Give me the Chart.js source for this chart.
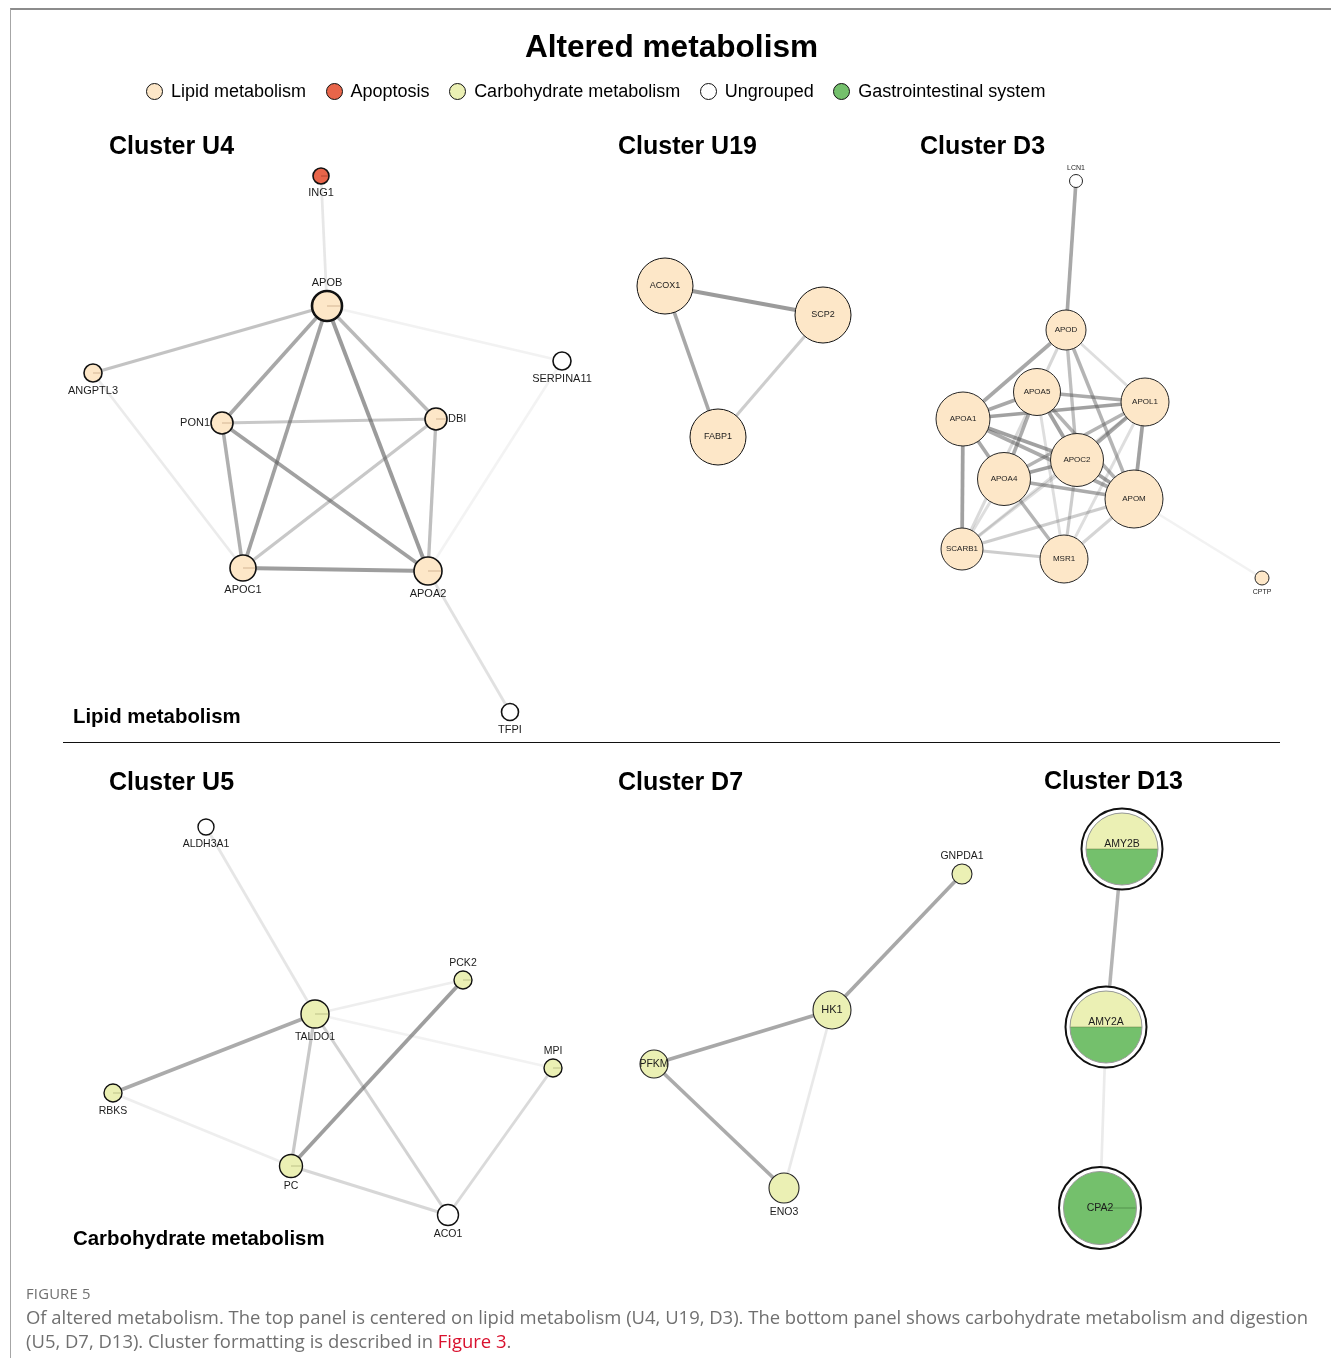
<!DOCTYPE html>
<html>
<head>
<meta charset="utf-8">
<title>Altered metabolism</title>
<script src="https://cdn.jsdelivr.net/npm/chart.js@4.4.0/dist/chart.umd.min.js"></script>
<style>
  html, body { margin: 0; padding: 0; background: #fff; }
  body { width: 1331px; height: 1358px; position: relative; overflow: hidden;
         font-family: "Liberation Sans", Arial, Helvetica, sans-serif; color: #000; }
  #frame { position: absolute; left: 10px; top: 8px; right: -2px; bottom: -2px;
           border-top: 2px solid #8c8c8c; border-left: 1px solid #a6a6a6; }
  #net { position: absolute; left: 0; top: 0; }
  .t { position: absolute; white-space: nowrap; line-height: 1; transform: translateY(-50%); }
  .title { font-size: 31.6px; font-weight: bold; left: 0; width: 1343px; text-align: center; }
  .cl { font-size: 25px; font-weight: bold; }
  .panel { font-size: 20.4px; font-weight: bold; }
  #legend { position: absolute; left: 146px; top: 91px; transform: translateY(-50%);
            display: flex; align-items: center; font-size: 18px; white-space: nowrap; line-height: 1; }
  #legend .item { display: flex; align-items: center; margin-right: 19.5px; }
  #legend .dot { width: 15px; height: 15px; border: 1.3px solid #111; border-radius: 50%;
                 margin-right: 8px; box-sizing: content-box; }
  #sep { position: absolute; left: 63px; top: 742px; width: 1217px; height: 0; border-top: 1.2px solid #111; }
  .cap { font-family: "Open Sans", "Noto Sans", sans-serif; color: #707070; }
  .figno { font-size: 14.8px; left: 26px; top: 1293px; letter-spacing: 0.2px; }
  .capline { font-size: 18.45px; left: 26px; }
  .capline a { color: #d9112e; text-decoration: none; }
</style>
</head>
<body>
<div id="frame"></div>
<canvas id="net" width="1331" height="1358"></canvas>

<div class="t title" style="top:47px;">Altered metabolism</div>
<div id="legend"></div>

<div class="t cl" style="left:109px; top:145px;">Cluster U4</div>
<div class="t cl" style="left:618px; top:145px;">Cluster U19</div>
<div class="t cl" style="left:920px; top:145px;">Cluster D3</div>
<div class="t cl" style="left:109px; top:781px;">Cluster U5</div>
<div class="t cl" style="left:618px; top:781px;">Cluster D7</div>
<div class="t cl" style="left:1044px; top:780px;">Cluster D13</div>

<div class="t panel" style="left:73px; top:716px;">Lipid metabolism</div>
<div class="t panel" style="left:73px; top:1238px;">Carbohydrate metabolism</div>
<div id="sep"></div>

<div class="t cap figno" style="top:1293px;">FIGURE 5</div>
<div class="t cap capline" style="top:1317px;">Of altered metabolism. The top panel is centered on lipid metabolism (U4, U19, D3). The bottom panel shows carbohydrate metabolism and digestion</div>
<div class="t cap capline" style="top:1341px;">(U5, D7, D13). Cluster formatting is described in <a>Figure 3</a>.</div>

<script>
// ---- Functional groups shown in the legend ----
const groupNames  = ['Lipid metabolism', 'Apoptosis', 'Carbohydrate metabolism', 'Ungrouped', 'Gastrointestinal system'];
const groupKeys   = ['lipid', 'apoptosis', 'carb', 'none', 'gi'];
const groupColors = ['#fde7c8', '#e8654a', '#ebf0b4', '#ffffff', '#74c06c'];

// ---- Network nodes: gene, layout position, group, node size ----
const nodeNames = [
  'ING1', 'APOB', 'ANGPTL3', 'SERPINA11', 'PON1', 'DBI', 'APOC1', 'APOA2', 'TFPI',          // U4
  'ACOX1', 'SCP2', 'FABP1',                                                                 // U19
  'LCN1', 'APOD', 'APOA5', 'APOL1', 'APOA1', 'APOC2', 'APOA4', 'APOM', 'SCARB1', 'MSR1', 'CPTP', // D3
  'ALDH3A1', 'PCK2', 'TALDO1', 'MPI', 'RBKS', 'PC', 'ACO1',                                 // U5
  'GNPDA1', 'HK1', 'PFKM', 'ENO3',                                                          // D7
  'AMY2B', 'AMY2A', 'CPA2'                                                                  // D13
];
const nodeX = [
  321, 327, 93, 562, 222, 436, 243, 428, 510,
  665, 823, 718,
  1076, 1066, 1037, 1145, 963, 1077, 1004, 1134, 962, 1064, 1262,
  206, 463, 315, 553, 113, 291, 448,
  962, 832, 654, 784,
  1122, 1106, 1100
];
const nodeY = [
  176, 306, 373, 361, 423, 419, 568, 571, 712,
  286, 315, 437,
  181, 330, 392, 402, 419, 460, 479, 499, 549, 559, 578,
  827, 980, 1014, 1068, 1093, 1166, 1215,
  874, 1010, 1064, 1188,
  849, 1027, 1208
];
const nodeGroup = [
  'apoptosis', 'lipid', 'lipid', 'none', 'lipid', 'lipid', 'lipid', 'lipid', 'none',
  'lipid', 'lipid', 'lipid',
  'none', 'lipid', 'lipid', 'lipid', 'lipid', 'lipid', 'lipid', 'lipid', 'lipid', 'lipid', 'lipid',
  'none', 'carb', 'carb', 'carb', 'carb', 'carb', 'none',
  'carb', 'carb', 'carb', 'carb',
  'carb+gi', 'carb+gi', 'gi'
];
const nodeSize = [
  8, 15, 9, 9, 11, 11, 13, 14, 8.5,
  28, 28, 28,
  6.5, 20, 23.5, 24, 27, 26.5, 26.5, 29, 21, 24, 7,
  8, 9, 14, 9, 9, 11.5, 10.5,
  10, 19, 14, 15,
  36, 36, 36.5
];

// ---- Interactions: source, target, confidence score ----
const edgeSource = [
  'ING1', 'APOB', 'APOB', 'APOB', 'APOB', 'APOB', 'APOB', 'PON1', 'PON1', 'PON1', 'DBI', 'DBI', 'APOC1', 'ANGPTL3', 'SERPINA11', 'APOA2',
  'ACOX1', 'ACOX1', 'SCP2',
  'LCN1', 'APOD', 'APOD', 'APOD', 'APOD', 'APOD', 'APOA5', 'APOA1', 'APOA1', 'APOA1', 'APOA1', 'APOA1', 'APOA1',
  'APOA5', 'APOA5', 'APOA5', 'APOA5', 'APOA5', 'APOL1', 'APOL1', 'APOL1', 'APOL1', 'APOL1',
  'APOC2', 'APOC2', 'APOC2', 'APOC2', 'APOA4', 'APOA4', 'APOA4', 'APOM', 'APOM', 'SCARB1', 'APOM',
  'ALDH3A1', 'TALDO1', 'TALDO1', 'TALDO1', 'TALDO1', 'TALDO1', 'PCK2', 'RBKS', 'PC', 'MPI',
  'GNPDA1', 'HK1', 'PFKM', 'HK1',
  'AMY2B', 'AMY2A'
];
const edgeTarget = [
  'APOB', 'ANGPTL3', 'SERPINA11', 'PON1', 'APOC1', 'APOA2', 'DBI', 'DBI', 'APOC1', 'APOA2', 'APOC1', 'APOA2', 'APOA2', 'APOC1', 'APOA2', 'TFPI',
  'SCP2', 'FABP1', 'FABP1',
  'APOD', 'APOA1', 'APOA5', 'APOL1', 'APOC2', 'APOM', 'APOL1', 'APOA5', 'APOL1', 'APOC2', 'APOM', 'APOA4', 'SCARB1',
  'APOA4', 'SCARB1', 'APOC2', 'APOM', 'MSR1', 'APOC2', 'APOA4', 'APOM', 'SCARB1', 'MSR1',
  'APOA4', 'APOM', 'MSR1', 'SCARB1', 'APOM', 'MSR1', 'SCARB1', 'SCARB1', 'MSR1', 'MSR1', 'CPTP',
  'TALDO1', 'PCK2', 'MPI', 'RBKS', 'PC', 'ACO1', 'PC', 'PC', 'ACO1', 'ACO1',
  'HK1', 'PFKM', 'ENO3', 'ENO3',
  'AMY2A', 'CPA2'
];
const edgeScore = [
  0.14, 0.36, 0.08, 0.52, 0.56, 0.60, 0.42, 0.33, 0.48, 0.56, 0.33, 0.38, 0.58, 0.12, 0.07, 0.18,
  0.60, 0.52, 0.30,
  0.52, 0.52, 0.24, 0.20, 0.38, 0.45, 0.50, 0.52, 0.56, 0.56, 0.50, 0.52, 0.56,
  0.50, 0.22, 0.56, 0.45, 0.20, 0.52, 0.45, 0.56, 0.20, 0.20,
  0.56, 0.56, 0.30, 0.20, 0.50, 0.45, 0.20, 0.30, 0.25, 0.30, 0.08,
  0.15, 0.10, 0.08, 0.50, 0.33, 0.27, 0.58, 0.10, 0.24, 0.22,
  0.52, 0.52, 0.50, 0.13,
  0.45, 0.12
];

// ---- Drawing styles ----
const colorOf = key => groupColors[groupKeys.indexOf(key)];
const ringNodes = new Set(['AMY2B', 'AMY2A', 'CPA2']);          // drawn with an outer ring
const tickNodes = new Set(['ING1', 'APOB', 'ANGPTL3', 'PON1', 'DBI', 'APOC1', 'APOA2',
                           'PCK2', 'TALDO1', 'MPI', 'RBKS', 'PC', 'CPA2']);
const labelPlace = {
  ING1: 'below', APOB: 'above', ANGPTL3: 'below', SERPINA11: 'below', PON1: 'left', DBI: 'right',
  APOC1: 'below', APOA2: 'below', TFPI: 'below', LCN1: 'above', CPTP: 'below',
  ALDH3A1: 'below', PCK2: 'above', TALDO1: 'below', MPI: 'above', RBKS: 'below', PC: 'below', ACO1: 'below',
  GNPDA1: 'above', ENO3: 'below', AMY2B: 'upper', AMY2A: 'upper'
};
const labelFont = name => {
  const i = nodeNames.indexOf(name);
  if (i <= 8) return 11;
  if (i <= 11) return 9;
  if (name === 'LCN1' || name === 'CPTP') return 7;
  if (i <= 22) return 8;
  if (i <= 29) return 10.5;
  if (name === 'HK1') return 11;
  return 10.5;
};
const borderOf = (name, i) => {
  if (name === 'APOB') return 2.6;
  if (i <= 8) return 1.6;
  if (i <= 22) return 1;
  if (i <= 29) return 1.4;
  if (i <= 33) return 1.1;
  return 2;
};

// Legend entries
const legend = document.getElementById('legend');
groupNames.forEach((g, i) => {
  const item = document.createElement('div');
  item.className = 'item';
  const dot = document.createElement('span');
  dot.className = 'dot';
  dot.style.background = groupColors[i];
  const txt = document.createElement('span');
  txt.textContent = g;
  item.appendChild(dot); item.appendChild(txt);
  legend.appendChild(item);
});

const pos = name => { const i = nodeNames.indexOf(name); return { x: nodeX[i], y: nodeY[i] }; };

// One line dataset per interaction
const edgeSets = edgeSource.map((s, i) => ({
  type: 'scatter',
  showLine: true,
  data: [pos(s), pos(edgeTarget[i])],
  borderColor: `rgba(88,88,88,${edgeScore[i]})`,
  borderWidth: 2.4 + 2.4 * edgeScore[i],
  borderCapStyle: 'butt',
  pointRadius: 0,
  pointHoverRadius: 0,
  order: 2
}));

// Node markers (ring nodes get an enclosing white ring here)
const nodeSet = {
  type: 'scatter',
  data: nodeNames.map((n, i) => ({ x: nodeX[i], y: nodeY[i] })),
  pointRadius: nodeNames.map((n, i) => ringNodes.has(n) ? nodeSize[i] + 4.5 : nodeSize[i]),
  pointHoverRadius: nodeNames.map((n, i) => ringNodes.has(n) ? nodeSize[i] + 4.5 : nodeSize[i]),
  pointBackgroundColor: nodeNames.map((n, i) => ringNodes.has(n) ? '#ffffff' : colorOf(nodeGroup[i])),
  pointBorderColor: nodeNames.map((n, i) => (i >= 12 && i <= 22) || (i >= 30 && i <= 33) ? '#262626' : '#111111'),
  pointBorderWidth: nodeNames.map((n, i) => borderOf(n, i)),
  order: 1
};

// Inner pies, centre ticks and gene labels
const nodeDecor = {
  id: 'nodeDecor',
  afterDatasetsDraw(chart) {
    const ctx = chart.ctx;
    const meta = chart.getDatasetMeta(chart.data.datasets.length - 1);
    meta.data.forEach((pt, i) => {
      const name = nodeNames[i];
      const { x, y } = pt.getProps(['x', 'y'], true);
      const r = nodeSize[i];
      ctx.save();
      if (ringNodes.has(name)) {
        const split = nodeGroup[i] === 'carb+gi';
        ctx.beginPath(); ctx.arc(x, y, r, 0, Math.PI * 2);
        ctx.fillStyle = colorOf('gi'); ctx.fill();
        if (split) {
          ctx.beginPath(); ctx.arc(x, y, r, Math.PI, Math.PI * 2); ctx.closePath();
          ctx.fillStyle = colorOf('carb'); ctx.fill();
          ctx.beginPath(); ctx.moveTo(x - r, y); ctx.lineTo(x + r, y);
          ctx.strokeStyle = 'rgba(90,110,60,0.45)'; ctx.lineWidth = 1; ctx.stroke();
        }
        ctx.beginPath(); ctx.arc(x, y, r, 0, Math.PI * 2);
        ctx.strokeStyle = '#9a9a9a'; ctx.lineWidth = 1; ctx.stroke();
      }
      if (tickNodes.has(name)) {
        ctx.beginPath(); ctx.moveTo(x, y); ctx.lineTo(x + r - 1, y);
        ctx.strokeStyle = name === 'ING1' ? 'rgba(120,30,20,0.5)' :
                          nodeGroup[i] === 'lipid' ? 'rgba(150,110,70,0.45)' :
                          nodeGroup[i] === 'gi' ? 'rgba(40,90,40,0.5)' : 'rgba(120,125,70,0.45)';
        ctx.lineWidth = 0.9; ctx.stroke();
      }
      // label
      const place = labelPlace[name] || 'center';
      const fs = labelFont(name);
      ctx.font = `${fs}px "Liberation Sans", Arial, sans-serif`;
      ctx.fillStyle = '#1c1c1c';
      ctx.textBaseline = 'middle';
      ctx.textAlign = 'center';
      const rr = ringNodes.has(name) ? r + 4.5 : r;
      let lx = x, ly = y;
      if (place === 'below') ly = y + rr + fs * 0.5 + 3.5;
      else if (place === 'above') ly = y - rr - fs * 0.5 - 3;
      else if (place === 'left') { lx = x - rr - 1; ctx.textAlign = 'right'; }
      else if (place === 'right') { lx = x + rr + 1; ctx.textAlign = 'left'; }
      else if (place === 'upper') ly = y - fs * 0.5;
      ctx.fillText(name, lx, ly);
      ctx.restore();
    });
  }
};

new Chart(document.getElementById('net'), {
  type: 'scatter',
  data: { datasets: [...edgeSets, nodeSet] },
  options: {
    responsive: false,
    animation: false,
    events: [],
    layout: { padding: 0, autoPadding: false },
    scales: {
      x: { type: 'linear', min: 0, max: 1331, display: false },
      y: { type: 'linear', min: 0, max: 1358, reverse: true, display: false }
    },
    plugins: { legend: { display: false }, tooltip: { enabled: false } }
  },
  plugins: [nodeDecor]
});
</script>
</body>
</html>
